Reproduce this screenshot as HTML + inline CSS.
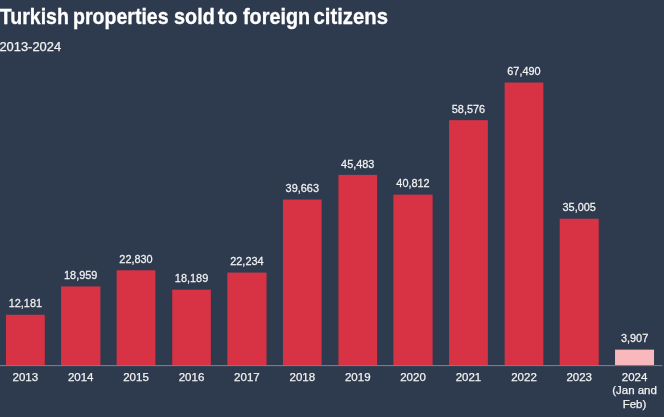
<!DOCTYPE html>
<html><head><meta charset="utf-8"><style>
html,body{margin:0;padding:0;width:664px;height:417px;overflow:hidden;background:#2e3b4e;}
svg{display:block;will-change:transform;}
text{font-family:"Liberation Sans",sans-serif;}
.t{font-weight:bold;font-size:21.6px;fill:#ffffff;stroke:#ffffff;stroke-width:0.3px;}
.s{font-size:12.9px;fill:#f2f2f2;stroke:#f2f2f2;stroke-width:0.25px;}
.v{font-size:11.5px;fill:#f2f2f2;text-anchor:middle;stroke:#f2f2f2;stroke-width:0.25px;}
.a{font-size:11.5px;fill:#f2f2f2;text-anchor:middle;stroke:#f2f2f2;stroke-width:0.25px;}
</style></head><body>
<svg width="664" height="417" viewBox="0 0 664 417">
<rect x="0" y="0" width="664" height="417" fill="#2e3b4e"/>
<text x="-0.20" y="24.1" class="t" textLength="69.06" lengthAdjust="spacingAndGlyphs">Turkish</text>
<text x="73.10" y="24.1" class="t" textLength="95.46" lengthAdjust="spacingAndGlyphs">properties</text>
<text x="174.08" y="24.1" class="t" textLength="40.69" lengthAdjust="spacingAndGlyphs">sold</text>
<text x="217.80" y="24.1" class="t" textLength="19.57" lengthAdjust="spacingAndGlyphs">to</text>
<text x="243.00" y="24.1" class="t" textLength="67.09" lengthAdjust="spacingAndGlyphs">foreign</text>
<text x="313.56" y="24.1" class="t" textLength="74.45" lengthAdjust="spacingAndGlyphs">citizens</text>
<text x="-0.6" y="51.4" class="s">2013-2024</text>
<rect x="5.94" y="314.78" width="38.86" height="50.22" fill="#d83245"/>
<text transform="translate(25.37,307.48) scale(0.95,1)" class="v">12,181</text>
<text x="25.37" y="381.2" class="a">2013</text>
<rect x="61.03" y="286.44" width="39.36" height="78.56" fill="#d83245"/>
<text transform="translate(80.72,279.14) scale(0.95,1)" class="v">18,959</text>
<text x="80.72" y="381.2" class="a">2014</text>
<rect x="116.63" y="270.27" width="38.76" height="94.73" fill="#d83245"/>
<text transform="translate(136.01,262.97) scale(0.95,1)" class="v">22,830</text>
<text x="136.01" y="381.2" class="a">2015</text>
<rect x="172.23" y="289.66" width="38.61" height="75.34" fill="#d83245"/>
<text transform="translate(191.53,282.36) scale(0.95,1)" class="v">18,189</text>
<text x="191.53" y="381.2" class="a">2016</text>
<rect x="227.32" y="272.57" width="39.21" height="92.43" fill="#d83245"/>
<text transform="translate(246.92,265.27) scale(0.95,1)" class="v">22,234</text>
<text x="246.92" y="381.2" class="a">2017</text>
<rect x="282.97" y="199.52" width="38.66" height="165.48" fill="#d83245"/>
<text transform="translate(302.30,192.22) scale(0.95,1)" class="v">39,663</text>
<text x="302.30" y="381.2" class="a">2018</text>
<rect x="338.41" y="174.90" width="38.71" height="190.10" fill="#d83245"/>
<text transform="translate(357.76,167.60) scale(0.95,1)" class="v">45,483</text>
<text x="357.76" y="381.2" class="a">2019</text>
<rect x="393.40" y="194.66" width="39.21" height="170.34" fill="#d83245"/>
<text transform="translate(413.01,187.36) scale(0.95,1)" class="v">40,812</text>
<text x="413.01" y="381.2" class="a">2020</text>
<rect x="449.05" y="120.16" width="38.81" height="244.84" fill="#d83245"/>
<text transform="translate(468.46,112.86) scale(0.95,1)" class="v">58,576</text>
<text x="468.46" y="381.2" class="a">2021</text>
<rect x="504.64" y="82.57" width="38.71" height="282.43" fill="#d83245"/>
<text transform="translate(524.00,75.27) scale(0.95,1)" class="v">67,490</text>
<text x="524.00" y="381.2" class="a">2022</text>
<rect x="559.69" y="218.73" width="39.06" height="146.27" fill="#d83245"/>
<text transform="translate(579.22,211.43) scale(0.95,1)" class="v">35,005</text>
<text x="579.22" y="381.2" class="a">2023</text>
<rect x="615.03" y="349.65" width="39.01" height="15.35" fill="#f9b8bc"/>
<text transform="translate(634.54,342.35) scale(0.95,1)" class="v">3,907</text>
<text x="634.54" y="381.2" class="a">2024</text>
<text x="634.54" y="394.4" class="a">(Jan and</text>
<text x="634.54" y="407.6" class="a">Feb)</text>
<rect x="0" y="365" width="662.4" height="1.15" fill="#747c88"/>
</svg>
</body></html>
